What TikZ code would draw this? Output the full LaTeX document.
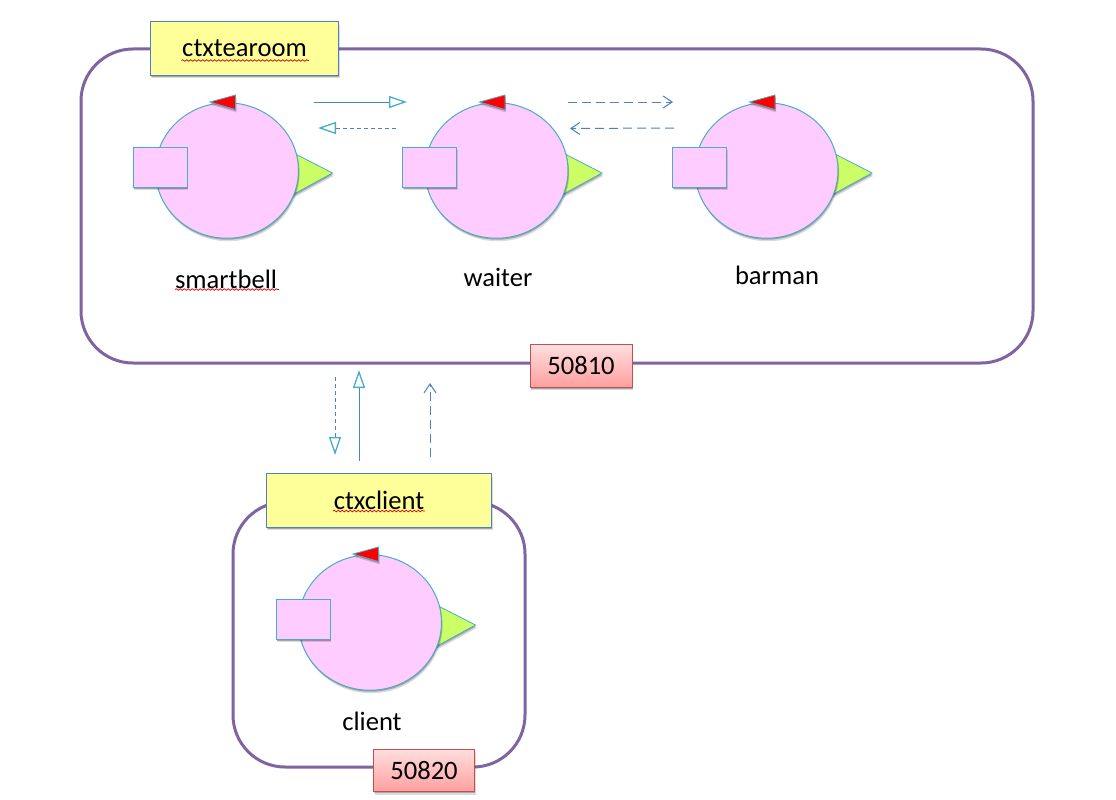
\documentclass[tikz,border=0pt]{standalone}
\usepackage{fontspec}
\setmainfont{Carlito}
\usetikzlibrary{arrows.meta,shadows,shapes.geometric,decorations.pathmorphing}
\definecolor{frame}{HTML}{8064A2}
\definecolor{bodypink}{HTML}{FFCCFF}
\definecolor{teal2}{HTML}{4BACC6}
\definecolor{steel}{HTML}{4F81BD}
\definecolor{tipgreen}{HTML}{CCFF66}
\definecolor{lab}{HTML}{FFFF99}
\definecolor{portline}{HTML}{C0504D}
\definecolor{porttop}{HTML}{FFDEDE}
\definecolor{portbot}{HTML}{FF9F9F}
\tikzset{
  softshadow/.style={drop shadow={shadow xshift=1.2pt,shadow yshift=-3pt,opacity=.14,fill=black},drop shadow={shadow xshift=.6pt,shadow yshift=-1.5pt,opacity=.24,fill=black}},
  ctxframe/.style={draw=frame,line width=3pt,fill=white,rounded corners=52pt},
  ctxlabel/.style={draw=steel,line width=1pt,fill=lab,softshadow,minimum height=53.5pt,inner sep=0pt,font=\fontsize{26.6}{30}\selectfont},
  portbox/.style={draw=portline,line width=1pt,top color=porttop,bottom color=portbot,softshadow,minimum height=42.5pt,inner sep=0pt,font=\fontsize{26.6}{30}\selectfont},
  bodyshape/.style={ellipse,draw=teal2,line width=1pt,fill=bodypink,softshadow,minimum width=143pt,minimum height=135.5pt,inner sep=0pt},
  portrect/.style={draw=teal2,line width=1pt,fill=bodypink,softshadow,minimum width=54pt,minimum height=40pt,inner sep=0pt},
  greentip/.style={draw=teal2,line width=.8pt,fill=tipgreen,softshadow},
  redtip/.style={draw=teal2,line width=.8pt,fill=red,softshadow},
  actorname/.style={font=\fontsize{26.6}{30}\selectfont,inner sep=0pt},
  squiggle/.style={draw=red!85!black,line width=.7pt,decorate,decoration={snake,amplitude=.8pt,segment length=4pt}},
  solidlink/.style={draw=steel,line width=1pt},
  dashlink/.style={draw=steel,line width=1pt,dash pattern=on 4pt off 3pt},
  longdash/.style={draw=steel,line width=1pt,dash pattern=on 9pt off 5pt},
  hollowtip/.style={-{Triangle[length=18pt,width=12pt,fill=white,color=teal2,line width=1.3pt]}},
  opentip/.style={-{Straight Barb[length=9pt,width=12pt,color=steel,line width=1pt]}}
}
\newcommand{\actorshape}[3]{%
  \coordinate (#1c) at (#2,#3);
  \begin{scope}[shift={(#2,#3)}]
    \path[greentip] (65,-18) -- (105,2.5) -- (62,26) -- cycle;
    \node[bodyshape] (#1) at (-.5,0) {};
    \node[portrect] (#1port) at (-67.5,-3.5) {};
    \path[redtip] (-17.5,-68.5) -- (8,-75.5) -- (8,-61) -- cycle;
  \end{scope}}
\begin{document}
\begin{tikzpicture}[x=1pt,y=-1pt]
\useasboundingbox (0,0) rectangle (1116,800);
\fill[white] (0,0) rectangle (1116,800);

\node[ctxframe,minimum width=952pt,minimum height=314pt,inner sep=0pt] (tearoom) at (557,206) {};
\node[ctxframe,minimum width=292pt,minimum height=265pt,inner sep=0pt] (clientbox) at (379,634.5) {};

\node[ctxlabel,minimum width=188pt] (ctxtearoom) at (244.5,48.3) {ctxtearoom};
\node[ctxlabel,minimum width=225pt] (ctxclient) at (379,500.3) {ctxclient};
\node[portbox,minimum width=102pt] (p50810) at (581,366) {50810};
\node[portbox,minimum width=101pt] (p50820) at (424,770.5) {50820};

\actorshape{smartbell}{227.5}{170.5}
\actorshape{waiter}{497}{170.5}
\actorshape{barman}{767}{170.5}
\actorshape{client}{370.5}{622.5}

\node[actorname] (smartbelltext) at (226,279) {smartbell};
\node[actorname] (waitertext) at (498,277) {waiter};
\node[actorname] (barmantext) at (777,275) {barman};
\node[actorname] (clienttext) at (372,721) {client};

\draw[squiggle] (181.5,60.5) -- (309,60.5);
\draw[squiggle] (175,289.5) -- (279,289.5);
\draw[squiggle] (333,511) -- (425,511);

\coordinate (a1s) at (314,102);   \coordinate (a1e) at (407,102);
\coordinate (a2s) at (396,128);   \coordinate (a2e) at (318,128);
\coordinate (a3s) at (568,102);   \coordinate (a3e) at (673,102);
\coordinate (a4s) at (674,128);   \coordinate (a4e) at (570,128.5);
\coordinate (a5s) at (335,377);   \coordinate (a5e) at (335,455);
\coordinate (a6s) at (359,461);   \coordinate (a6e) at (359,370);
\coordinate (a7s) at (430,457);   \coordinate (a7e) at (430,383);

\draw[solidlink,hollowtip] (a1s) -- (a1e);
\draw[dashlink,hollowtip] (a2s) -- (a2e);
\draw[longdash,opentip] (a3s) -- (a3e);
\draw[longdash,opentip] (a4s) -- (a4e);
\draw[dashlink,hollowtip] (a5s) -- (a5e);
\draw[solidlink,hollowtip] (a6s) -- (a6e);
\draw[longdash,opentip] (a7s) -- (a7e);
\end{tikzpicture}
\end{document}
